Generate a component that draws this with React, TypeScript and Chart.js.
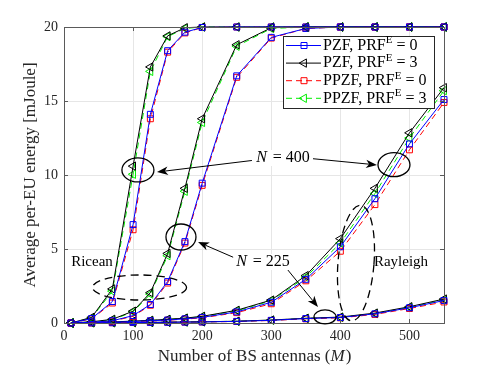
import React, { useEffect, useRef } from "react";
import { Chart, registerables } from "chart.js";

Chart.register(...registerables);

// ---------- data ----------
const antennas = [10, 40, 70, 100, 125, 150, 175, 200, 250, 300, 350, 400, 450, 500, 550];

// Ricean, N = 400
const riceanN400PZF0 = [0, 0.3, 1.45, 6.65, 14.1, 18.4, 19.65, 19.97, 20, 20, 20, 20, 20, 20, 20];
const riceanN400PZF3 = [0, 0.38, 2.3, 10.6, 17.3, 19.4, 19.95, 20, 20, 20, 20, 20, 20, 20, 20];
const riceanN400PPZF0 = [0, 0.28, 1.35, 6.3, 13.8, 18.3, 19.6, 19.97, 20, 20, 20, 20, 20, 20, 20];
const riceanN400PPZF3 = [0, 0.35, 2.15, 10.05, 17.0, 19.35, 19.9, 20, 20, 20, 20, 20, 20, 20, 20];

// Ricean, N = 225
const riceanN225PZF0 = [0, 0.05, 0.15, 0.5, 1.25, 2.8, 5.5, 9.45, 16.7, 19.3, 19.9, 20, 20, 20, 20];
const riceanN225PZF3 = [0, 0.08, 0.25, 0.8, 2.05, 4.7, 9.1, 13.8, 18.8, 19.95, 20, 20, 20, 20, 20];
const riceanN225PPZF0 = [0, 0.05, 0.13, 0.45, 1.2, 2.7, 5.4, 9.3, 16.6, 19.25, 19.9, 20, 20, 20, 20];
const riceanN225PPZF3 = [0, 0.07, 0.22, 0.75, 1.95, 4.55, 8.9, 13.55, 18.7, 19.9, 20, 20, 20, 20, 20];

// Rayleigh, N = 400
const rayleighN400PZF0 = [0, 0.02, 0.05, 0.1, 0.15, 0.2, 0.28, 0.38, 0.75, 1.4, 2.95, 5.15, 8.4, 12.1, 15.1];
const rayleighN400PZF3 = [0, 0.03, 0.07, 0.13, 0.18, 0.25, 0.33, 0.45, 0.86, 1.55, 3.2, 5.7, 9.1, 12.85, 15.9];
const rayleighN400PPZF0 = [0, 0.02, 0.05, 0.09, 0.14, 0.19, 0.26, 0.35, 0.7, 1.3, 2.85, 4.85, 8.0, 11.7, 14.9];
const rayleighN400PPZF3 = [0, 0.03, 0.06, 0.12, 0.17, 0.24, 0.32, 0.43, 0.82, 1.5, 3.1, 5.4, 8.75, 12.5, 15.7];

// Rayleigh, N = 225
const rayleighN225PZF0 = [0, 0.01, 0.02, 0.03, 0.04, 0.05, 0.06, 0.07, 0.11, 0.18, 0.3, 0.37, 0.62, 1.03, 1.52];
const rayleighN225PZF3 = [0, 0.01, 0.02, 0.03, 0.04, 0.05, 0.07, 0.08, 0.12, 0.2, 0.32, 0.4, 0.67, 1.1, 1.62];
const rayleighN225PPZF0 = [0, 0.01, 0.02, 0.03, 0.04, 0.05, 0.06, 0.07, 0.1, 0.17, 0.28, 0.35, 0.58, 0.98, 1.42];
const rayleighN225PPZF3 = [0, 0.01, 0.02, 0.03, 0.04, 0.05, 0.07, 0.08, 0.12, 0.19, 0.31, 0.38, 0.64, 1.06, 1.56];

const seriesScheme = ["PZF", "PZF", "PPZF", "PPZF"];
const seriesPRF = [0, 3, 0, 3];

const xTickValues = [0, 100, 200, 300, 400, 500];
const yTickValues = [0, 5, 10, 15, 20];

const xTitle = "Number of BS antennas (";
const xTitleVar = "M";
const yTitle = "Average per-EU energy [mJoule]";

const groups = [
  [riceanN400PZF0, riceanN400PZF3, riceanN400PPZF0, riceanN400PPZF3],
  [riceanN225PZF0, riceanN225PZF3, riceanN225PPZF0, riceanN225PPZF3],
  [rayleighN400PZF0, rayleighN400PZF3, rayleighN400PPZF0, rayleighN400PPZF3],
  [rayleighN225PZF0, rayleighN225PZF3, rayleighN225PPZF0, rayleighN225PPZF3],
];

// ---------- styles ----------
const FONT = "'Liberation Serif', 'Times New Roman', serif";
const seriesStyle = [
  { color: "#0000ff", dash: [] as number[], marker: "rect", radius: 4.2, rot: 0 },
  { color: "#000000", dash: [] as number[], marker: "triangle", radius: 4.8, rot: 270 },
  { color: "#ff0000", dash: [6, 4], marker: "rect", radius: 4.2, rot: 0 },
  { color: "#00ee00", dash: [6, 4], marker: "triangle", radius: 4.8, rot: 270 },
];

// annotations (data coords for anchors, pixels for radii)
const solidEllipses = [
  { x: 107, y: 10.34, rx: 16, ry: 12 },
  { x: 477.6, y: 10.7, rx: 16, ry: 12 },
  { x: 169.3, y: 5.81, rx: 15, ry: 13 },
  { x: 377.8, y: 0.41, rx: 11, ry: 7 },
];
const dashedEllipses = [
  { x: 109.3, y: 2.4, rx: 47, ry: 12.5, rot: 0 },
  { x: 422.6, y: 4.05, rx: 18, ry: 58, rot: 0.08 },
];
const arrows = [
  { x1: 272, y1: 10.98, x2: 134.6, y2: 10.2 },
  { x1: 360.4, y1: 11.1, x2: 453, y2: 10.68 },
  { x1: 247, y1: 4.4, x2: 194, y2: 5.47 },
  { x1: 322.8, y1: 3.65, x2: 367.6, y2: 1.08 },
];
const nLabels = [
  { x: 317, y: 11.15, text: "400" },
  { x: 288, y: 4.12, text: "225" },
];
const plainLabels = [
  { x: 40.5, y: 4.12, text: "Ricean" },
  { x: 487.8, y: 4.12, text: "Rayleigh" },
];

function drawArrowHead(ctx: CanvasRenderingContext2D, fx: number, fy: number, tx: number, ty: number) {
  const dx = tx - fx, dy = ty - fy;
  const len = Math.hypot(dx, dy);
  const ux = dx / len, uy = dy / len;
  const nx = -uy, ny = ux;
  const L = 11, W = 4.2;
  ctx.beginPath();
  ctx.moveTo(tx, ty);
  ctx.lineTo(tx - ux * L + nx * W, ty - uy * L + ny * W);
  ctx.lineTo(tx - ux * L * 0.72, ty - uy * L * 0.72);
  ctx.lineTo(tx - ux * L - nx * W, ty - uy * L - ny * W);
  ctx.closePath();
  ctx.fill();
}

function drawMarker(ctx: CanvasRenderingContext2D, kind: string, x: number, y: number, color: string) {
  ctx.save();
  ctx.strokeStyle = color;
  ctx.lineWidth = 1;
  ctx.setLineDash([]);
  ctx.beginPath();
  if (kind === "rect") {
    ctx.rect(x - 3, y - 3, 6, 6);
  } else {
    const r = 4.8;
    ctx.moveTo(x - r, y);
    ctx.lineTo(x + r * 0.5, y - r * 0.866);
    ctx.lineTo(x + r * 0.5, y + r * 0.866);
    ctx.closePath();
  }
  ctx.stroke();
  ctx.restore();
}

const overlayPlugin = {
  id: "overlay",
  afterDraw(chart: any) {
    const { ctx, chartArea, scales } = chart;
    const X = (v: number) => scales.x.getPixelForValue(v);
    const Y = (v: number) => scales.y.getPixelForValue(v);
    const { left, right, top, bottom } = chartArea;
    ctx.save();

    // axes box + inward ticks
    ctx.strokeStyle = "#5a5a5a";
    ctx.lineWidth = 1;
    ctx.setLineDash([]);
    ctx.strokeRect(Math.round(left) + 0.5, Math.round(top) + 0.5, Math.round(right - left), Math.round(bottom - top));
    ctx.beginPath();
    xTickValues.forEach((v) => {
      const px = Math.round(X(v)) + 0.5;
      ctx.moveTo(px, bottom);
      ctx.lineTo(px, bottom - 4);
      ctx.moveTo(px, top);
      ctx.lineTo(px, top + 4);
    });
    yTickValues.forEach((v) => {
      const py = Math.round(Y(v)) + 0.5;
      ctx.moveTo(left, py);
      ctx.lineTo(left + 4, py);
      ctx.moveTo(right, py);
      ctx.lineTo(right - 4, py);
    });
    ctx.stroke();

    // x title with italic variable
    ctx.fillStyle = "#262626";
    ctx.textBaseline = "middle";
    ctx.font = `17px ${FONT}`;
    const w1 = ctx.measureText(xTitle).width;
    ctx.font = `italic 17px ${FONT}`;
    const w2 = ctx.measureText(xTitleVar).width;
    ctx.font = `17px ${FONT}`;
    const w3 = ctx.measureText(")").width;
    let sx = (left + right) / 2 - (w1 + w2 + w3) / 2;
    const ty = 357;
    ctx.textAlign = "left";
    ctx.fillText(xTitle, sx, ty);
    ctx.font = `italic 17px ${FONT}`;
    ctx.fillText(xTitleVar, sx + w1, ty);
    ctx.font = `17px ${FONT}`;
    ctx.fillText(")", sx + w1 + w2 + 1, ty);

    // ellipses
    ctx.strokeStyle = "#000";
    ctx.lineWidth = 1.3;
    solidEllipses.forEach((e) => {
      ctx.beginPath();
      ctx.ellipse(X(e.x), Y(e.y), e.rx, e.ry, 0, 0, Math.PI * 2);
      ctx.stroke();
    });
    ctx.setLineDash([8, 5]);
    dashedEllipses.forEach((e) => {
      ctx.beginPath();
      ctx.ellipse(X(e.x), Y(e.y), e.rx, e.ry, e.rot, 0, Math.PI * 2);
      ctx.stroke();
    });
    ctx.setLineDash([]);

    // arrows
    ctx.lineWidth = 1;
    ctx.fillStyle = "#000";
    arrows.forEach((a) => {
      const fx = X(a.x1), fy = Y(a.y1), tx = X(a.x2), tyy = Y(a.y2);
      ctx.beginPath();
      ctx.moveTo(fx, fy);
      const d = Math.hypot(tx - fx, tyy - fy);
      ctx.lineTo(tx - ((tx - fx) / d) * 8, tyy - ((tyy - fy) / d) * 8);
      ctx.stroke();
      drawArrowHead(ctx, fx, fy, tx, tyy);
    });

    // N = ... labels (with white halo behind)
    ctx.textBaseline = "middle";
    nLabels.forEach((l) => {
      const cx = X(l.x), cy = Y(l.y);
      ctx.font = `italic 16px ${FONT}`;
      const wn = ctx.measureText("N").width;
      ctx.font = `16px ${FONT}`;
      const rest = " = " + l.text;
      const wr = ctx.measureText(rest).width;
      const total = wn + wr + 2;
      const x0 = cx - total / 2;
      ctx.fillStyle = "#fff";
      ctx.fillRect(x0 - 3, cy - 8, total + 6, 16);
      ctx.fillStyle = "#000";
      ctx.font = `italic 16px ${FONT}`;
      ctx.textAlign = "left";
      ctx.fillText("N", x0, cy);
      ctx.font = `16px ${FONT}`;
      ctx.fillText(rest, x0 + wn + 2, cy);
    });
    plainLabels.forEach((l) => {
      ctx.font = `15px ${FONT}`;
      ctx.textAlign = "center";
      ctx.fillStyle = "#000";
      ctx.fillText(l.text, X(l.x), Y(l.y));
    });

    // legend
    const bw = 151, bh = 72;
    const bx = right - 10 - bw, by = top + 9;
    ctx.fillStyle = "#fff";
    ctx.fillRect(bx, by, bw, bh);
    ctx.strokeStyle = "#262626";
    ctx.lineWidth = 1;
    ctx.strokeRect(Math.round(bx) + 0.5, Math.round(by) + 0.5, bw, bh);
    seriesScheme.forEach((name, i) => {
      const st = seriesStyle[i];
      const cy = by + 9.5 + i * 17.6;
      ctx.strokeStyle = st.color;
      ctx.lineWidth = 1;
      ctx.setLineDash(st.dash);
      ctx.beginPath();
      ctx.moveTo(bx + 3, cy);
      ctx.lineTo(bx + 38, cy);
      ctx.stroke();
      ctx.setLineDash([]);
      drawMarker(ctx, st.marker, bx + 21, cy, st.color);
      ctx.fillStyle = "#000";
      ctx.textAlign = "left";
      ctx.textBaseline = "middle";
      let tx = bx + 40;
      ctx.font = `16px ${FONT}`;
      const a = name + ", PRF";
      ctx.fillText(a, tx, cy);
      tx += ctx.measureText(a).width;
      ctx.font = `11px ${FONT}`;
      ctx.fillText("E", tx, cy - 5);
      tx += ctx.measureText("E").width + 4;
      ctx.font = `16px ${FONT}`;
      ctx.fillText("=", tx, cy);
      tx += ctx.measureText("=").width + 4;
      ctx.fillText(String(seriesPRF[i]), tx, cy);
    });

    ctx.restore();
  },
};

export default function App() {
  const canvasRef = useRef<HTMLCanvasElement | null>(null);

  useEffect(() => {
    const canvas = canvasRef.current;
    if (!canvas) return;
    const datasets: any[] = [];
    groups.forEach((grp) => {
      grp.forEach((values, si) => {
        const st = seriesStyle[si];
        datasets.push({
          label: `${seriesScheme[si]}, PRF^E = ${seriesPRF[si]}`,
          data: antennas.map((x, k) => ({ x, y: values[k] })),
          borderColor: st.color,
          borderWidth: 1,
          borderDash: st.dash,
          pointStyle: st.marker,
          pointRadius: st.radius,
          pointRotation: st.rot,
          pointBorderColor: st.color,
          pointBackgroundColor: "rgba(0,0,0,0)",
          pointBorderWidth: 1,
          tension: 0,
          fill: false,
          clip: false,
        });
      });
    });

    const chart = new Chart(canvas, {
      type: "line",
      data: { datasets },
      options: {
        animation: false,
        responsive: false,
        devicePixelRatio: 1,
        layout: { padding: { top: 27, right: 47, left: 0, bottom: 0 } },
        plugins: { legend: { display: false }, tooltip: { enabled: false } },
        elements: { line: { borderCapStyle: "butt" } },
        scales: {
          x: {
            type: "linear",
            min: 0,
            max: 550,
            ticks: {
              stepSize: 100,
              color: "#262626",
              font: { family: FONT, size: 14 },
              padding: 5,
              maxRotation: 0,
            },
            afterBuildTicks: (s: any) => {
              s.ticks = xTickValues.map((v) => ({ value: v }));
            },
            afterFit: (s: any) => {
              s.height = 45;
            },
            grid: { color: "#e6e6e6", drawTicks: false },
            border: { display: false },
          },
          y: {
            type: "linear",
            min: 0,
            max: 20,
            ticks: {
              stepSize: 5,
              color: "#262626",
              font: { family: FONT, size: 14 },
              padding: 6,
            },
            afterBuildTicks: (s: any) => {
              s.ticks = yTickValues.map((v) => ({ value: v }));
            },
            afterFit: (s: any) => {
              s.width = 64;
            },
            title: {
              display: true,
              text: yTitle,
              color: "#262626",
              font: { family: FONT, size: 17 },
              padding: { top: 20, bottom: 0 },
            },
            grid: { color: "#e6e6e6", drawTicks: false },
            border: { display: false },
          },
        },
      },
      plugins: [overlayPlugin],
    } as any);

    return () => chart.destroy();
  }, []);

  return (
    <div style={{ position: "fixed", left: 0, top: 0, width: 491, height: 368, background: "#fff" }}>
      <canvas ref={canvasRef} width={491} height={368} style={{ width: 491, height: 368, display: "block" }} />
    </div>
  );
}
